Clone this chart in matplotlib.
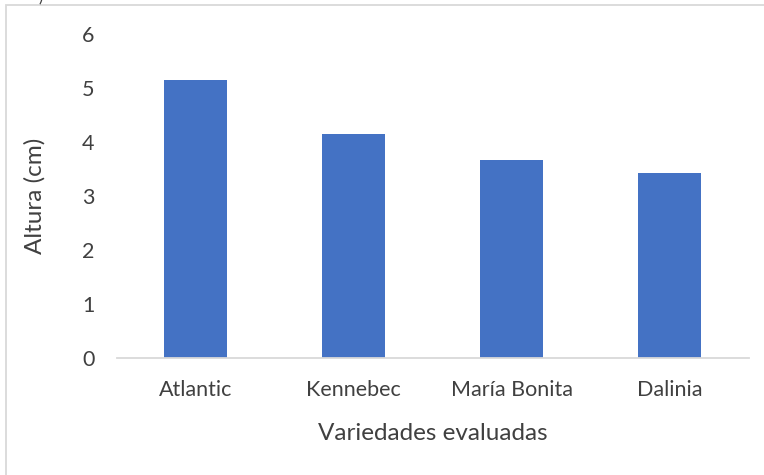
import matplotlib.pyplot as plt
from matplotlib.patches import Rectangle

variedades = ['Atlantic', 'Kennebec', 'María Bonita', 'Dalinia']
altura = [5.15, 4.15, 3.67, 3.43]

plt.rcParams['font.family'] = ['Lato', 'DejaVu Sans']

fig = plt.figure(figsize=(7.64, 4.75), dpi=100)
ax = fig.add_axes([0.153, 0.246, 0.827, 0.682])

ax.bar(range(len(variedades)), altura, width=0.4, color='#4472C4')
ax.set_xlim(-0.5, len(variedades) - 0.5)
ax.set_ylim(0, 6)
ax.set_yticks(range(0, 7))
ax.set_xticks(range(len(variedades)))
ax.set_xticklabels(variedades)

for s in ['top', 'right', 'left']:
    ax.spines[s].set_visible(False)
ax.spines['bottom'].set_color('#d9d9d9')
ax.spines['bottom'].set_linewidth(1.3)
ax.tick_params(axis='both', length=0, labelsize=15.5, colors='#404040')
ax.tick_params(axis='y', pad=16)
ax.tick_params(axis='x', pad=16)

ax.set_ylabel('Altura (cm)', fontsize=17.5, color='#404040', labelpad=26)
ax.set_xlabel('Variedades evaluadas', fontsize=17.5, color='#404040', labelpad=16)

# chart frame
fig.patches.append(Rectangle((6 / 764, -0.1), 1.0, 1.1 - 5 / 475, transform=fig.transFigure,
                             fill=False, edgecolor='#d9d9d9', linewidth=1.3))
fig.text(0.05, 1.005, ')', fontsize=12, color='#404040', va='center')

fig.savefig('out.png', dpi=100)
